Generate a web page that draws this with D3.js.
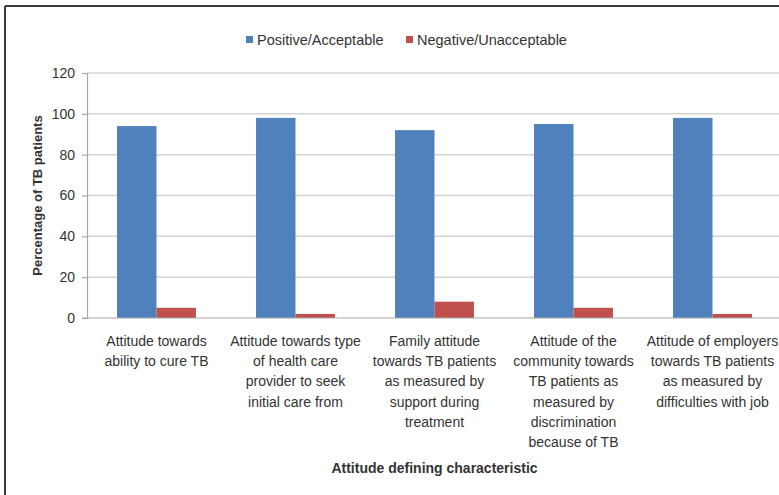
<!DOCTYPE html>
<html>
<head>
<meta charset="utf-8">
<script src="https://cdn.jsdelivr.net/npm/d3@7"></script>
<style>
  html, body { margin: 0; padding: 0; background: #fff; }
  svg { display: block; }
  text { font-family: "Liberation Sans Narrow", "Arial Narrow", "Liberation Sans", sans-serif; fill: #333; }
</style>
</head>
<body>
<svg id="chart" width="779" height="495"></svg>
<script>
const categories = [
  ["Attitude towards", "ability to cure TB"],
  ["Attitude towards type", "of health care", "provider to seek", "initial care from"],
  ["Family attitude", "towards TB patients", "as measured by", "support during", "treatment"],
  ["Attitude of the", "community towards", "TB patients as", "measured by", "discrimination", "because of TB"],
  ["Attitude of employers", "towards TB patients", "as measured by", "difficulties with job"]
];
const seriesNames = ["Positive/Acceptable", "Negative/Unacceptable"];
const positive = [94, 98, 92, 95, 98];
const negative = [5, 2, 8, 5, 2];
const yTicks = [0, 20, 40, 60, 80, 100, 120];
const colors = ["#4F81BD", "#C0504D"];
const yTitle = "Percentage of TB patients";
const xTitle = "Attitude defining characteristic";

const svg = d3.select("#chart");
const margin = { left: 87, right: -3, top: 73, bottom: 177 };
const W = 779, H = 495;
const plotLeft = margin.left, plotRight = W - margin.right;
const plotTop = margin.top, plotBottom = H - margin.bottom;

// outer frame (left and top edges visible)
svg.append("line").attr("x1", 5).attr("x2", 5).attr("y1", 6).attr("y2", H)
  .attr("stroke", "#3a3a3a").attr("stroke-width", 2);
svg.append("line").attr("x1", 5).attr("x2", W).attr("y1", 6).attr("y2", 6)
  .attr("stroke", "#3a3a3a").attr("stroke-width", 2);

const idx = d3.range(categories.length);
const x0 = d3.scaleBand().domain(idx).range([plotLeft, plotRight]).padding(0);
const gap = x0.bandwidth() * 0.216;
const x1 = d3.scaleBand().domain(seriesNames).range([gap, x0.bandwidth() - gap]).padding(0);
const y = d3.scaleLinear().domain([0, 120]).range([plotBottom, plotTop]);

// gridlines
svg.append("g").selectAll("line").data(yTicks.filter(t => t > 0)).join("line")
  .attr("x1", plotLeft).attr("x2", plotRight)
  .attr("y1", d => y(d)).attr("y2", d => y(d))
  .attr("stroke", "#d4d4d4").attr("stroke-width", 1.5);

// y axis
const yAxis = svg.append("g").attr("transform", `translate(${plotLeft},0)`)
  .call(d3.axisLeft(y).tickValues(yTicks).tickSize(5).tickPadding(7));
yAxis.select(".domain").attr("stroke", "#a8a8a8").attr("stroke-width", 1.2);
yAxis.selectAll(".tick line").attr("stroke", "#a8a8a8").attr("stroke-width", 1.2);
yAxis.selectAll(".tick text").style("font-size", "14px").attr("fill", "#333")
  .style("font-family", "\"Liberation Sans Narrow\", sans-serif");

// bars
const data = idx.map(i => ({ i, values: [positive[i], negative[i]] }));
const groups = svg.append("g").selectAll("g").data(data).join("g")
  .attr("transform", d => `translate(${x0(d.i)},0)`);
groups.selectAll("rect").data(d => d.values.map((v, k) => ({ v, k }))).join("rect")
  .attr("x", d => x1(seriesNames[d.k]))
  .attr("width", x1.bandwidth())
  .attr("y", d => y(d.v))
  .attr("height", d => y(0) - y(d.v))
  .attr("fill", d => colors[d.k]);

// baseline
svg.append("line").attr("x1", plotLeft - 5).attr("x2", plotRight)
  .attr("y1", y(0)).attr("y2", y(0))
  .attr("stroke", "#a8a8a8").attr("stroke-width", 1.2);

// category labels
const labelG = svg.append("g");
idx.forEach(i => {
  const t = labelG.append("text")
    .attr("x", x0(i) + x0.bandwidth() / 2)
    .attr("y", plotBottom + 28)
    .attr("text-anchor", "middle")
    .style("font-size", "14px");
  categories[i].forEach((line, j) => {
    t.append("tspan").attr("x", x0(i) + x0.bandwidth() / 2)
      .attr("dy", j === 0 ? 0 : 20.2).text(line);
  });
});

// axis titles
svg.append("text").attr("x", (plotLeft + plotRight) / 2).attr("y", 473)
  .attr("text-anchor", "middle").style("font-size", "14px").style("font-weight", "bold")
  .attr("fill", "#222").text(xTitle);
svg.append("text").attr("transform", `translate(42,${(plotTop + plotBottom) / 2}) rotate(-90)`)
  .attr("text-anchor", "middle").style("font-size", "13px").style("font-weight", "bold")
  .attr("fill", "#222").text(yTitle);

// legend
const legend = svg.append("g");
const legX = [246, 406];
seriesNames.forEach((s, k) => {
  legend.append("rect").attr("x", legX[k]).attr("y", 36).attr("width", 7).attr("height", 7)
    .attr("fill", colors[k]);
  legend.append("text").attr("x", legX[k] + 11).attr("y", 44.5)
    .style("font-size", "14.5px").text(s);
});
</script>
</body>
</html>
